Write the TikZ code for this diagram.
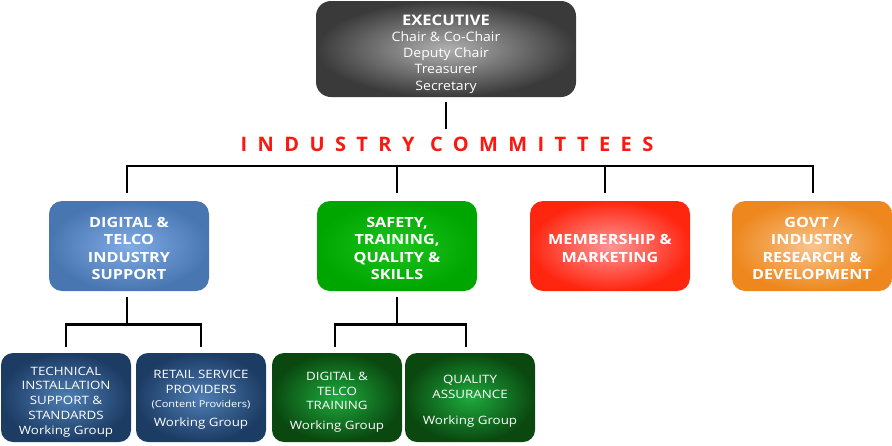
\documentclass[tikz,border=0pt]{standalone}
\usepackage{fontspec}
\setmainfont{Open Sans}
\newfontfamily\titlefont[LetterSpace=52]{Open Sans}
\newfontfamily\execfont[FakeStretch=1.08]{Open Sans}
\newfontfamily\execboldfont[FakeStretch=1.14]{Open Sans}
\newfontfamily\lvtwofont[FakeStretch=1.16]{Open Sans}
\newfontfamily\lvthreefont[FakeStretch=1.16]{Open Sans}
\newcommand\topgap[1]{\rule{0pt}{#1}}
\begin{document}
\begin{tikzpicture}[x=1pt,y=-1pt,
  conn/.style={line width=2.6pt,black},
  boxbase/.style={rounded corners=13pt,text=white,align=center,inner sep=0pt,
     minimum width=160pt,minimum height=90pt},
  execbox/.style={boxbase,rounded corners=15pt,minimum width=260pt,minimum height=96pt,
     inner color={rgb,255:red,176;green,176;blue,176},outer color={rgb,255:red,58;green,58;blue,58},
     font=\execfont\fontsize{13}{16.2}\selectfont},
  lvtwo/.style={boxbase,font=\lvtwofont\bfseries\fontsize{14}{17.4}\selectfont},
  lvthree/.style={boxbase,rounded corners=12pt,minimum width=130pt,minimum height=89pt,
     font=\lvthreefont\fontsize{11.5}{14.7}\selectfont},
  bluebox/.style={lvtwo,inner color={rgb,255:red,128;green,172;blue,230},outer color={rgb,255:red,72;green,118;blue,176}},
  greenbox/.style={lvtwo,inner color={rgb,255:red,30;green,196;blue,30},outer color={rgb,255:red,0;green,166;blue,0}},
  redbox/.style={lvtwo,inner color={rgb,255:red,255;green,150;blue,150},outer color={rgb,255:red,255;green,38;blue,16}},
  orangebox/.style={lvtwo,inner color={rgb,255:red,248;green,196;blue,140},outer color={rgb,255:red,238;green,136;blue,30}},
  dbluebox/.style={lvthree,inner color={rgb,255:red,78;green,126;blue,180},outer color={rgb,255:red,28;green,60;blue,100}},
  dgreenbox/.style={lvthree,inner color={rgb,255:red,30;green,170;blue,60},outer color={rgb,255:red,10;green,72;blue,16}},
  titlestyle/.style={text={rgb,255:red,250;green,24;blue,16},inner sep=0pt,font=\titlefont\bfseries\fontsize{20}{24}\selectfont}
]
\useasboundingbox (0,0) rectangle (892,445);

\node[execbox] (exec) at (446,49) {\topgap{21pt}{\execboldfont\bfseries\fontsize{14.5}{16}\selectfont EXECUTIVE}\\Chair \& Co-Chair\\Deputy Chair\\Treasurer\\[0.5pt]Secretary};
\node[titlestyle] (title) at (447,144) {INDUSTRY COMMITTEES};

\node[bluebox] (d1) at (129,246) {\topgap{15pt}DIGITAL \&\\TELCO\\INDUSTRY\\SUPPORT};
\node[greenbox] (d2) at (397,246) {\topgap{15pt}SAFETY,\\TRAINING,\\QUALITY \&\\SKILLS};
\node[redbox] (d3) at (610,246) {\topgap{15pt}MEMBERSHIP \&\\MARKETING};
\node[orangebox] (d4) at (812,246) {\topgap{15pt}GOVT /\\INDUSTRY\\RESEARCH \&\\DEVELOPMENT};

\node[dbluebox] (b1) at (66,397.5) {\topgap{17pt}TECHNICAL\\INSTALLATION\\SUPPORT \&\\STANDARDS\\Working Group};
\node[dbluebox] (b2) at (201,397.5) {\topgap{13pt}RETAIL SERVICE\\PROVIDERS\\{\fontsize{9.5}{13}\selectfont(Content Providers)}\\[4pt]Working Group};
\node[dgreenbox] (g1) at (337,397.5) {\topgap{18pt}DIGITAL \&\\TELCO\\TRAINING\\[5pt]Working Group};
\node[dgreenbox] (g2) at (470,397.5) {\topgap{16pt}QUALITY\\ASSURANCE\\[11pt]Working Group};

% executive to committees
\draw[conn] ([yshift=-5pt]exec.south) -- ([yshift=-32pt]exec.south);
% bus
\draw[conn] ([xshift=-2pt,yshift=35pt]d1.north) -- ([xshift=1pt,yshift=35pt]d4.north);
\draw[conn] ([xshift=-2pt,yshift=36.3pt]d1.north) -- ([xshift=-2pt,yshift=8pt]d1.north);
\draw[conn] ([yshift=35pt]d2.north) -- ([yshift=8pt]d2.north);
\draw[conn] ([xshift=-5pt,yshift=35pt]d3.north) -- ([xshift=-5pt,yshift=8pt]d3.north);
\draw[conn] ([xshift=1pt,yshift=36.3pt]d4.north) -- ([xshift=1pt,yshift=8pt]d4.north);
% blue sub
\draw[conn] ([xshift=-2pt,yshift=-6pt]d1.south) -- ([xshift=-2pt,yshift=-33pt]d1.south);
\draw[conn] ([yshift=6pt]b1.north) |- ([yshift=-33pt]d1.south) -| ([yshift=6pt]b2.north);
% green sub
\draw[conn] ([yshift=-6pt]d2.south) -- ([yshift=-33pt]d2.south);
\draw[conn] ([xshift=-2pt,yshift=6pt]g1.north) |- ([yshift=-33pt]d2.south) -| ([xshift=-4pt,yshift=6pt]g2.north);
\end{tikzpicture}
\end{document}
